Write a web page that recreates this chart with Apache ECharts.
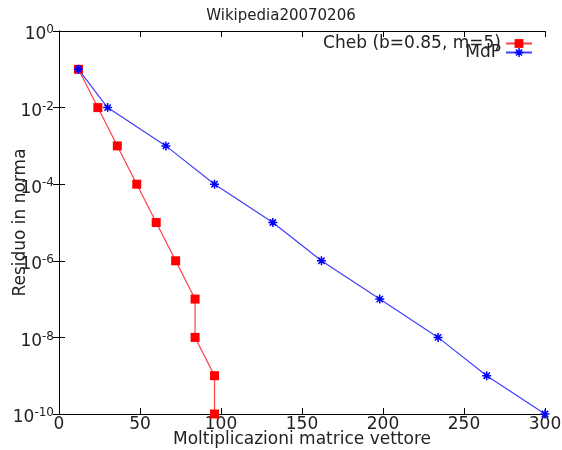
<!DOCTYPE html>
<html>
<head>
<meta charset="utf-8">
<script src="https://cdn.jsdelivr.net/npm/echarts@6/dist/echarts.min.js"></script>
<style>
  html, body { margin: 0; padding: 0; background: #fff; }
  #container { width: 562px; height: 450px; }
</style>
</head>
<body>
<div id="container"></div>
<script>
var dom = document.getElementById('container');
var myChart = echarts.init(dom, null, { renderer: 'canvas' });

// Cheb (b=0.85, m=5)
const chebX = [12, 24, 36, 48, 60, 72, 84, 84, 96, 96];
const chebY = [1e-1, 1e-2, 1e-3, 1e-4, 1e-5, 1e-6, 1e-7, 1e-8, 1e-9, 1e-10];
// MdP
const mdpX = [12, 30, 66, 96, 132, 162, 198, 234, 264, 300];
const mdpY = [1e-1, 1e-2, 1e-3, 1e-4, 1e-5, 1e-6, 1e-7, 1e-8, 1e-9, 1e-10];

const font = 'DejaVu Sans';

function pairs(xs, ys) {
    let out = [];
    for (let i = 0; i < xs.length; i++) out.push([xs[i], ys[i]]);
    return out;
}

function powLabel(v) {
    let e = Math.round(Math.log10(v));
    return '{b|10}{s|' + e + '}';
}

const starPath = 'path://M5,0L5,10M0,5L10,5M1.5,1.5L8.5,8.5M8.5,1.5L1.5,8.5';

var option = {
    animation: false,
    title: {
        text: 'Wikipedia20070206',
        left: 'center',
        top: 4,
        textStyle: { fontFamily: font, fontSize: 15, fontWeight: 'normal', color: '#222' }
    },
    legend: [
        {
            data: ['Cheb (b=0.85, m=5)'],
            right: 29,
            top: 35,
            align: 'right',
            itemWidth: 26,
            itemHeight: 11,
            padding: 0,
            textStyle: { fontFamily: font, fontSize: 17, color: '#222' }
        },
        {
            data: ['MdP'],
            right: 29,
            top: 44,
            align: 'right',
            itemWidth: 26,
            itemHeight: 11,
            padding: 0,
            itemStyle: { borderWidth: 1.5, borderColor: '#0000ff' },
            textStyle: { fontFamily: font, fontSize: 17, color: '#222' }
        }
    ],
    grid: { left: 59, right: 17, top: 31, bottom: 36, outerBoundsMode: 'none' },
    xAxis: [
        {
            type: 'value',
            min: 0,
            max: 300,
            interval: 50,
            name: 'Moltiplicazioni matrice vettore',
            nameLocation: 'middle',
            nameGap: 17,
            nameMoveOverlap: false,
            nameTextStyle: { fontFamily: font, fontSize: 17, color: '#222' },
            axisLine: { lineStyle: { color: '#000', width: 1 } },
            axisTick: { inside: true, length: 6, lineStyle: { color: '#000' } },
            axisLabel: { fontFamily: font, fontSize: 17, color: '#222', margin: 2 },
            splitLine: { show: false }
        },
        {
            type: 'value',
            position: 'top',
            min: 0,
            max: 300,
            interval: 50,
            axisLine: { show: true, lineStyle: { color: '#000', width: 1 } },
            axisTick: { inside: true, length: 6, lineStyle: { color: '#000' } },
            axisLabel: { show: false },
            splitLine: { show: false }
        }
    ],
    yAxis: [
        {
            type: 'log',
            logBase: 10,
            min: 1e-10,
            max: 1,
            interval: 2,
            name: 'Residuo in norma',
            nameLocation: 'middle',
            nameGap: 30,
            nameMoveOverlap: false,
            nameTextStyle: { fontFamily: font, fontSize: 17, color: '#222' },
            axisLine: { show: true, lineStyle: { color: '#000', width: 1 } },
            axisTick: { inside: true, length: 6, lineStyle: { color: '#000' } },
            axisLabel: {
                margin: 5,
                padding: [8, 0, 0, 0],
                formatter: powLabel,
                rich: {
                    b: { fontFamily: font, fontSize: 17, color: '#222' },
                    s: { fontFamily: font, fontSize: 12, color: '#222', padding: [0, 0, 10, 0] }
                }
            },
            splitLine: { show: false }
        },
        {
            type: 'log',
            logBase: 10,
            min: 1e-10,
            max: 1,
            interval: 2,
            position: 'right',
            axisLine: { show: true, lineStyle: { color: '#000', width: 1 } },
            axisTick: { inside: true, length: 6, lineStyle: { color: '#000' } },
            axisLabel: { show: false },
            splitLine: { show: false }
        }
    ],
    series: [
        {
            name: 'Cheb (b=0.85, m=5)',
            type: 'line',
            data: pairs(chebX, chebY),
            symbol: 'rect',
            symbolSize: 9,
            showAllSymbol: true,
            lineStyle: { color: '#ff4040', width: 1.2 },
            itemStyle: { color: '#ff0000' }
        },
        {
            name: 'MdP',
            type: 'line',
            data: pairs(mdpX, mdpY),
            symbol: starPath,
            symbolSize: 9,
            showAllSymbol: true,
            lineStyle: { color: '#4040ff', width: 1.2 },
            itemStyle: { color: '#0000ff', borderColor: '#0000ff', borderWidth: 1.5 }
        }
    ]
};

myChart.setOption(option);
window.addEventListener('resize', myChart.resize);
</script>
</body>
</html>
